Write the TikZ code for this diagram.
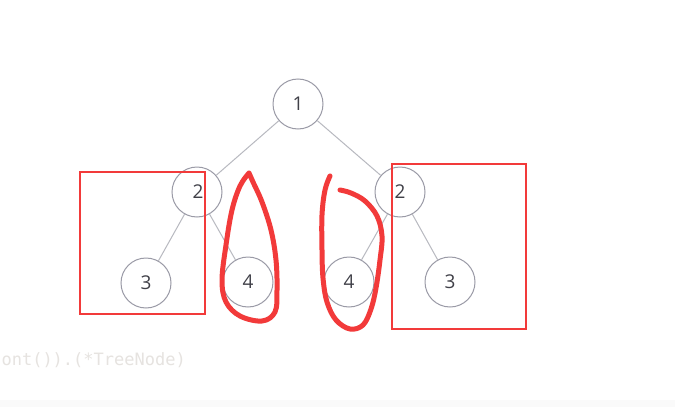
\documentclass[tikz,border=0pt]{standalone}
\usepackage{fontspec}
\setmainfont{Open Sans}
\newfontfamily\codefont{DejaVu Sans Mono}
\begin{document}
\begin{tikzpicture}[x=1pt,y=-1pt,
  treenode/.style={circle,draw=nodegray,line width=1pt,minimum size=50pt,inner sep=0pt,
    text=textdark,font=\fontsize{19}{19}\selectfont},
  treeedge/.style={draw=edgegray,line width=1pt},
  markbox/.style={draw=penred,line width=2.4pt},
  pen/.style={draw=penred,line width=5pt,line cap=round,line join=round}]
\definecolor{nodegray}{HTML}{9A9AA6}
\definecolor{edgegray}{HTML}{B8B9C0}
\definecolor{textdark}{HTML}{404048}
\definecolor{penred}{HTML}{F23A3A}
\definecolor{codegray}{HTML}{E6E3E0}
\useasboundingbox (0,0) rectangle (675,407);
\clip (0,0) rectangle (675,407);
\fill[white] (0,0) rectangle (675,407);
\fill[black!2] (0,400) rectangle (675,407);

% binary tree
\node[treenode] (n1)  at (298,104) {1};
\node[treenode] (n2l) at (197,192) {\hspace{2pt}2};
\node[treenode] (n2r) at (400,192) {2};
\node[treenode] (n3l) at (146,283) {3};
\node[treenode] (n4l) at (248,282) {4};
\node[treenode] (n4r) at (349,282) {4};
\node[treenode] (n3r) at (450,282) {3};
\draw[treeedge] (n1) -- (n2l);
\draw[treeedge] (n1) -- (n2r);
\draw[treeedge] (n2l) -- (n3l);
\draw[treeedge] (n2l) -- (n4l);
\draw[treeedge] (n2r) -- (n4r);
\draw[treeedge] (n2r) -- (n3r);

% red annotations
\draw[markbox] (80,172) rectangle (205,314);
\draw[markbox] (392,164) rectangle (526,329);
\draw[pen] plot[smooth,tension=0.6] coordinates {(249,173) (240,186) (232,210) (226,245) (222,280) (226,302) (240,316) (262,321) (275,312) (277,290) (276,260) (271,230) (262,202) (253,182) (249,173)};
\draw[pen] plot[smooth,tension=0.6] coordinates {(330,176) (325,190) (322,215) (322,250) (323,278) (327,302) (336,320) (350,329) (363,325) (371,309) (376,288) (380,260) (382,236) (377,216) (365,201) (351,193) (340,190)};

% code fragment
\node[anchor=base east,inner sep=0pt,text=codegray,font=\codefont\fontsize{17}{17}\selectfont] (code) at (186,365) {ont()).(*TreeNode)};
\end{tikzpicture}
\end{document}
